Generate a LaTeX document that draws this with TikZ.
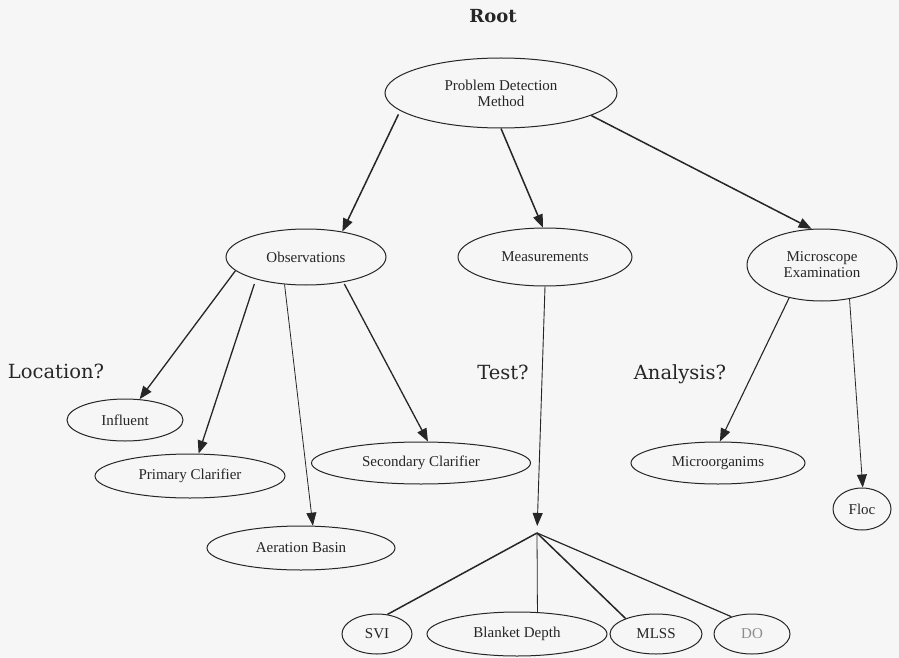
\documentclass[tikz,border=0pt]{standalone}
\usepackage{fontspec}
\setmainfont{Liberation Serif}
\newfontfamily\cuefont{DejaVu Serif}
\usetikzlibrary{shapes.geometric,arrows.meta}
\definecolor{ink}{HTML}{262626}
\definecolor{paper}{HTML}{F6F6F6}
\definecolor{faded}{HTML}{8C8C8C}
\begin{document}
\begin{tikzpicture}[x=1pt,y=-1pt,
  oval/.style={ellipse,draw=ink,line width=1pt,inner sep=0pt,text=ink,align=center,
    font=\fontsize{15}{16}\selectfont},
  link/.style={draw=ink,line width=#1},
  link/.default=1.2pt,
  arrowlink/.style={link=#1,-{Triangle[length=13pt,width=10pt]}},
  arrowlink/.default=1.2pt,
  cue/.style={text=ink,font=\cuefont\fontsize{19.5}{22}\selectfont,inner sep=0pt,anchor=base},
  title/.style={text=ink,font=\cuefont\bfseries\fontsize{18}{20}\selectfont,inner sep=0pt,anchor=base},
]
\fill[paper] (0,0) rectangle (899,658);
\useasboundingbox (0,0) rectangle (899,658);

% heading and question labels
\node[title] (root) at (493,23) {Root};
\node[cue] (loc)  at (56,378)  {Location?};
\node[cue] (test) at (503,379) {Test?};
\node[cue] (ana)  at (680,379) {Analysis?};

% top level
\node[oval,minimum width=232pt,minimum height=70pt] (pdm) at (501,93) {Problem Detection\\Method};

% second level
\node[oval,minimum width=160pt,minimum height=56pt] (obs)  at (306,257) {Observations};
\node[oval,minimum width=174pt,minimum height=58pt] (meas) at (545,257) {Measurements};
\node[oval,minimum width=150pt,minimum height=72pt,inner sep=-10pt] (mic) at (822,265) {Microscope\\Examination};

% locations
\node[oval,minimum width=116pt,minimum height=42pt] (infl) at (125,420) {Influent};
\node[oval,minimum width=190pt,minimum height=44pt] (prim) at (190,476) {Primary Clarifier};
\node[oval,minimum width=188pt,minimum height=44pt] (aer)  at (301,548) {Aeration Basin};
\node[oval,minimum width=219pt,minimum height=42pt] (sec)  at (421,463) {Secondary Clarifier};

% analyses
\node[oval,minimum width=174pt,minimum height=42pt] (micro) at (718,463) {Microorganims};
\node[oval,minimum width=58pt,minimum height=42pt]  (floc)  at (862,509) {Floc};

% tests
\node[oval,minimum width=70pt,minimum height=40pt]  (svi)   at (377,634) {SVI};
\node[oval,minimum width=180pt,minimum height=44pt] (blank) at (517,634) {Blanket Depth};
\node[oval,minimum width=92pt,minimum height=40pt]  (mlss)  at (656,634) {MLSS};
\node[oval,minimum width=76pt,minimum height=40pt,text=faded] (do) at (752,634) {DO};

\coordinate (fan) at (537,533);

% connectors
\draw[arrowlink=1.5pt,shorten <=4pt] (pdm.190) -- (obs.35);
\draw[arrowlink=1.5pt] (pdm.270) -- (meas.94);
\draw[arrowlink=1.5pt] (pdm.346) -- (mic.106);

\draw[arrowlink=1.3pt] (obs.191) -- (infl.55);
\draw[arrowlink=1.3pt,shorten <=5pt] (obs.204) -- (prim.69);
\draw[arrowlink=0.8pt] (obs.232) -- (aer.62);
\draw[arrowlink=1.3pt,shorten <=2pt] (obs.326) -- (sec.72);

\draw[arrowlink=1.1pt] (mic.225) -- (micro.85);
\draw[arrowlink=0.8pt] (mic.309) -- (floc.88);

\draw[arrowlink=0.9pt,shorten >=7pt] (meas.270) -- (fan);
\draw[link=1.5pt] (fan) -- (svi.62);
\draw[link=0.8pt] (fan) -- (blank.47);
\draw[link=1.5pt] (fan) -- (mlss.153);
\draw[link=1.2pt] (fan) -- (do.140);
\end{tikzpicture}
\end{document}
